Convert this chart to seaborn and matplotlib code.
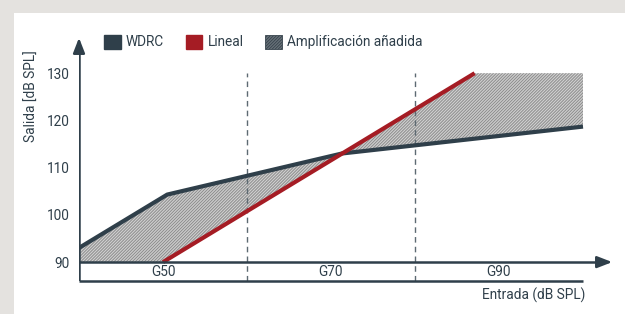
# -*- coding: utf-8 -*-
import matplotlib as mpl
mpl.use('Agg')
import matplotlib.pyplot as plt
from matplotlib.patches import Patch, Rectangle
import numpy as np
import pandas as pd
import seaborn as sns

##### DATA #####
wdrc_x = [40, 50.5, 71.3, 100]
wdrc_y = [93, 104.3, 113, 118.7]
lineal_x = [50, 87.1]
lineal_y = [90, 130]
y_ticks = [90, 100, 110, 120, 130]
bands = ['G50', 'G70', 'G90']
band_edges = [40, 60, 80, 100]
legend_labels = ['WDRC', 'Lineal', 'Amplificación añadida']
#####

dark = '#2f3f4a'
red = '#a51c24'
fs = 9.8
hatch = '/' * 11

sns.set_style('white')
plt.rcParams['font.family'] = ['Roboto', 'DejaVu Sans']
plt.rcParams['hatch.linewidth'] = 0.7

f = plt.figure(figsize=(6.25, 3.14), dpi=100)
f.patch.set_facecolor('#e4e2df')
f.patches.append(Rectangle((14 / 625, 0), 1, 1 - 13 / 314, transform=f.transFigure,
                           facecolor='white', edgecolor='none', zorder=-5))

W, H = 625, 314
ax = f.add_axes([79 / W, (H - 281) / H, (615 - 79) / W, (281 - 35) / H])
ax.set_zorder(2)
ax.patch.set_alpha(0)
x0, x1 = 40, 40 + (615 - 79) / 8.4
y0, y1 = 86, 90 + (262 - 35) / 4.72
ax.set_xlim(x0, x1)
ax.set_ylim(y0, y1)
for s in ax.spines.values():
    s.set_visible(False)

# shaded difference between WDRC and (clipped) linear
grid = np.array(sorted(set(wdrc_x + lineal_x + [band_edges[0], band_edges[-1]])))
w_i = np.interp(grid, wdrc_x, wdrc_y)
l_i = np.interp(grid, lineal_x, lineal_y)  # flat outside the line ends (90 / 130)
ax.fill_between(grid, w_i, l_i, interpolate=True, facecolor='#d0d0d0',
                edgecolor='#8c8c8c', hatch=hatch, linewidth=0, zorder=1)

df_w = pd.DataFrame({'x': wdrc_x, 'y': wdrc_y})
df_l = pd.DataFrame({'x': lineal_x, 'y': lineal_y})
sns.lineplot(data=df_w, x='x', y='y', color=dark, linewidth=3, ax=ax, zorder=3,
             solid_capstyle='butt')
sns.lineplot(data=df_l, x='x', y='y', color=red, linewidth=3, ax=ax, zorder=4,
             solid_capstyle='butt')

# axes drawn by hand
ax.plot([x0, x0], [y0, y1 - 2], color=dark, lw=1.8, zorder=5, solid_capstyle='butt')
ax.plot([x0, x1 - 1.5], [90, 90], color=dark, lw=1.8, zorder=5, solid_capstyle='butt')
ax.plot([x0, band_edges[-1]], [y0, y0], color=dark, lw=1.8, zorder=5, solid_capstyle='butt',
        clip_on=False)
ax.annotate('', xy=(x0, y1), xytext=(x0, y1 - 3),
            arrowprops=dict(arrowstyle='-|>,head_length=0.9,head_width=0.35', color=dark, lw=1.8),
            zorder=6, annotation_clip=False)
ax.annotate('', xy=(x1, 90), xytext=(x1 - 2, 90),
            arrowprops=dict(arrowstyle='-|>,head_length=0.9,head_width=0.35', color=dark, lw=1.8),
            zorder=6, annotation_clip=False)

for xe in band_edges[1:-1]:
    ax.plot([xe, xe], [y0, 130], color='#5d6a72', lw=1, ls=(0, (4, 3)), zorder=2)

for i, b in enumerate(bands):
    ax.text((band_edges[i] + band_edges[i + 1]) / 2, 88, b, ha='center', va='center',
            fontsize=fs, color=dark)

ax.set_xticks([])
ax.set_yticks(y_ticks)
ax.set_yticklabels([str(v) for v in y_ticks], fontsize=fs, color=dark)
ax.tick_params(axis='y', length=0, pad=7)
ax.set_xlabel('')
ax.set_ylabel('')

f.text(585 / W, 1 - 295 / H, 'Entrada (dB SPL)', ha='right', va='center', fontsize=fs, color=dark)
f.text(32 / W, 1 - 96 / H, 'Salida [dB SPL]', ha='center', va='center', rotation=90,
       fontsize=fs, color=dark)

handles = [Patch(facecolor=dark, edgecolor=dark),
           Patch(facecolor=red, edgecolor=red),
           Patch(facecolor='#6a747b', edgecolor='#3a464f', hatch=hatch, linewidth=0.6)]
f.legend(handles, legend_labels, loc='center left', bbox_to_anchor=(92 / W, 1 - 42 / H),
         ncol=3, frameon=False, handlelength=1.2, handleheight=1.2, handletextpad=0.4,
         columnspacing=1.6, fontsize=fs, labelcolor=dark)

plt.savefig('out.png', dpi=100, facecolor=f.get_facecolor())
